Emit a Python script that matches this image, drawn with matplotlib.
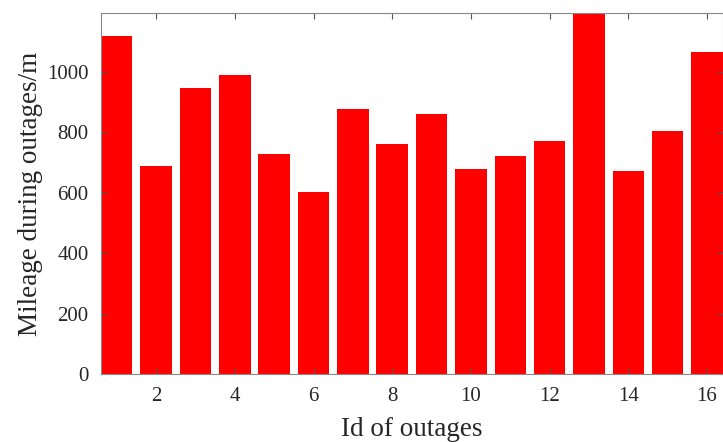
import numpy as np
import matplotlib.pyplot as plt

plt.rcParams["font.family"] = ["Liberation Serif", "DejaVu Serif"]

outage_id = list(range(1, 17))
mileage = [1118, 688, 947, 990, 728, 601, 876, 763,
           860, 678, 723, 771, 1210, 673, 805, 1065]
xtick_list = [2, 4, 6, 8, 10, 12, 14, 16]
ytick_list = [0, 200, 400, 600, 800, 1000]

fig = plt.figure(figsize=(7.23, 4.42), dpi=100)
ax = fig.add_axes([0.1397, 0.1538, 0.8600, 0.8168])

ax.bar(outage_id, mileage, width=0.8, color="#ff0000", edgecolor="none")

ax.set_xlim(0.6, 16.4)
ax.set_ylim(0, 1195)
ax.set_xticks(xtick_list)
ax.set_yticks(ytick_list)
ax.tick_params(direction="in", length=4, width=0.8, color="#555555",
               top=True, right=True, labelsize=15, labelcolor="#262626", pad=9)
for s in ax.spines.values():
    s.set_color("#888888")
    s.set_linewidth(0.8)

ax.set_xlabel("Id of outages", fontsize=19.5, color="#262626", labelpad=8)
ax.set_ylabel("Mileage during outages/m", fontsize=19.5, color="#262626", labelpad=3)

plt.savefig("out.png", dpi=100)
